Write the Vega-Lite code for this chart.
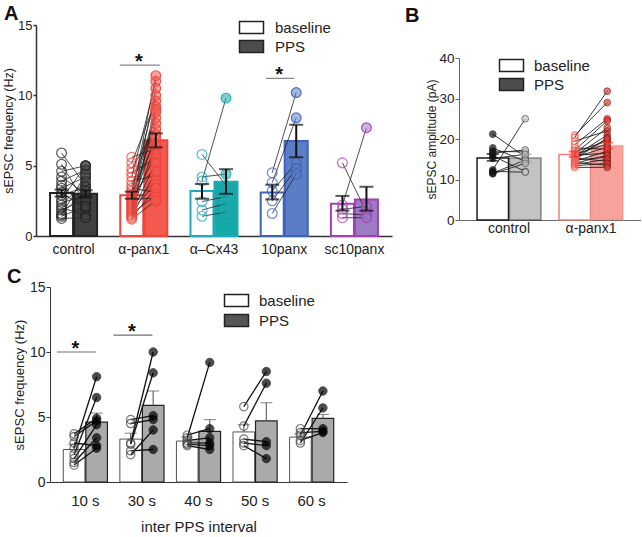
{
"$schema": "https://vega.github.io/schema/vega-lite/v6.json",
"autosize": {"type": "pad"},
"padding": {"left": 2, "top": 4, "right": 0, "bottom": 0},
"config": {
  "font": "Liberation Sans",
  "view": {"stroke": null},
  "axis": {"grid": false, "labelColor": "#222222", "titleColor": "#222222", "titleFontWeight": "normal", "domainColor": "#333333", "tickColor": "#333333"},
  "title": {"fontSize": 20, "fontWeight": "bold", "color": "#111111", "anchor": "start", "frame": "group"}
},
"datasets": {
  "A_bars": [
    {"group": "control", "cond": "baseline", "mean": 3.05, "lo": 2.8, "hi": 3.3},
    {"group": "control", "cond": "PPS", "mean": 3.0, "lo": 2.75, "hi": 3.25},
    {"group": "α-panx1", "cond": "baseline", "mean": 2.9, "lo": 2.65, "hi": 3.15},
    {"group": "α-panx1", "cond": "PPS", "mean": 6.8, "lo": 6.3, "hi": 7.3},
    {"group": "α–Cx43", "cond": "baseline", "mean": 3.2, "lo": 2.65, "hi": 3.7},
    {"group": "α–Cx43", "cond": "PPS", "mean": 3.85, "lo": 3.0, "hi": 4.75},
    {"group": "10panx", "cond": "baseline", "mean": 3.1, "lo": 2.6, "hi": 3.65},
    {"group": "10panx", "cond": "PPS", "mean": 6.75, "lo": 5.6, "hi": 7.9},
    {"group": "sc10panx", "cond": "baseline", "mean": 2.3, "lo": 1.8, "hi": 2.85},
    {"group": "sc10panx", "cond": "PPS", "mean": 2.6, "lo": 1.8, "hi": 3.5}
  ],
  "A_sig": [
    {"group": "α-panx1", "y": 12.15, "label": "*"},
    {"group": "10panx", "y": 11.2, "label": "*"}
  ],
  "A_pts": [
    {"group": "control", "pair": "c1", "cond": "baseline", "value": 5.9}, {"group": "control", "pair": "c1", "cond": "PPS", "value": 3.6},
    {"group": "control", "pair": "c2", "cond": "baseline", "value": 5.1}, {"group": "control", "pair": "c2", "cond": "PPS", "value": 2.3},
    {"group": "control", "pair": "c3", "cond": "baseline", "value": 4.6}, {"group": "control", "pair": "c3", "cond": "PPS", "value": 5.0},
    {"group": "control", "pair": "c4", "cond": "baseline", "value": 4.2}, {"group": "control", "pair": "c4", "cond": "PPS", "value": 3.0},
    {"group": "control", "pair": "c5", "cond": "baseline", "value": 3.9}, {"group": "control", "pair": "c5", "cond": "PPS", "value": 4.7},
    {"group": "control", "pair": "c6", "cond": "baseline", "value": 3.6}, {"group": "control", "pair": "c6", "cond": "PPS", "value": 2.0},
    {"group": "control", "pair": "c7", "cond": "baseline", "value": 3.4}, {"group": "control", "pair": "c7", "cond": "PPS", "value": 4.2},
    {"group": "control", "pair": "c8", "cond": "baseline", "value": 3.1}, {"group": "control", "pair": "c8", "cond": "PPS", "value": 1.9},
    {"group": "control", "pair": "c9", "cond": "baseline", "value": 2.9}, {"group": "control", "pair": "c9", "cond": "PPS", "value": 3.5},
    {"group": "control", "pair": "c10", "cond": "baseline", "value": 2.6}, {"group": "control", "pair": "c10", "cond": "PPS", "value": 5.0},
    {"group": "control", "pair": "c11", "cond": "baseline", "value": 2.4}, {"group": "control", "pair": "c11", "cond": "PPS", "value": 2.8},
    {"group": "control", "pair": "c12", "cond": "baseline", "value": 2.2}, {"group": "control", "pair": "c12", "cond": "PPS", "value": 3.9},
    {"group": "control", "pair": "c13", "cond": "baseline", "value": 2.0}, {"group": "control", "pair": "c13", "cond": "PPS", "value": 1.5},
    {"group": "control", "pair": "c14", "cond": "baseline", "value": 1.85}, {"group": "control", "pair": "c14", "cond": "PPS", "value": 2.6},
    {"group": "control", "pair": "c15", "cond": "baseline", "value": 1.6}, {"group": "control", "pair": "c15", "cond": "PPS", "value": 3.2},
    {"group": "control", "pair": "c16", "cond": "baseline", "value": 1.4}, {"group": "control", "pair": "c16", "cond": "PPS", "value": 2.1},
    {"group": "control", "pair": "c17", "cond": "baseline", "value": 1.25}, {"group": "control", "pair": "c17", "cond": "PPS", "value": 1.3},
    {"group": "control", "pair": "c18", "cond": "baseline", "value": 1.5}, {"group": "control", "pair": "c18", "cond": "PPS", "value": 4.4},
    {"group": "α-panx1", "pair": "r1", "cond": "baseline", "value": 5.6}, {"group": "α-panx1", "pair": "r1", "cond": "PPS", "value": 6.2},
    {"group": "α-panx1", "pair": "r2", "cond": "baseline", "value": 5.2}, {"group": "α-panx1", "pair": "r2", "cond": "PPS", "value": 9.6},
    {"group": "α-panx1", "pair": "r3", "cond": "baseline", "value": 4.8}, {"group": "α-panx1", "pair": "r3", "cond": "PPS", "value": 7.6},
    {"group": "α-panx1", "pair": "r4", "cond": "baseline", "value": 4.5}, {"group": "α-panx1", "pair": "r4", "cond": "PPS", "value": 5.5},
    {"group": "α-panx1", "pair": "r5", "cond": "baseline", "value": 4.2}, {"group": "α-panx1", "pair": "r5", "cond": "PPS", "value": 11.0},
    {"group": "α-panx1", "pair": "r6", "cond": "baseline", "value": 3.9}, {"group": "α-panx1", "pair": "r6", "cond": "PPS", "value": 4.3},
    {"group": "α-panx1", "pair": "r7", "cond": "baseline", "value": 3.6}, {"group": "α-panx1", "pair": "r7", "cond": "PPS", "value": 8.4},
    {"group": "α-panx1", "pair": "r8", "cond": "baseline", "value": 3.4}, {"group": "α-panx1", "pair": "r8", "cond": "PPS", "value": 3.1},
    {"group": "α-panx1", "pair": "r9", "cond": "baseline", "value": 3.2}, {"group": "α-panx1", "pair": "r9", "cond": "PPS", "value": 10.0},
    {"group": "α-panx1", "pair": "r10", "cond": "baseline", "value": 3.0}, {"group": "α-panx1", "pair": "r10", "cond": "PPS", "value": 6.9},
    {"group": "α-panx1", "pair": "r11", "cond": "baseline", "value": 2.9}, {"group": "α-panx1", "pair": "r11", "cond": "PPS", "value": 4.9},
    {"group": "α-panx1", "pair": "r12", "cond": "baseline", "value": 2.8}, {"group": "α-panx1", "pair": "r12", "cond": "PPS", "value": 11.4},
    {"group": "α-panx1", "pair": "r13", "cond": "baseline", "value": 2.7}, {"group": "α-panx1", "pair": "r13", "cond": "PPS", "value": 8.0},
    {"group": "α-panx1", "pair": "r14", "cond": "baseline", "value": 2.6}, {"group": "α-panx1", "pair": "r14", "cond": "PPS", "value": 2.7},
    {"group": "α-panx1", "pair": "r15", "cond": "baseline", "value": 2.5}, {"group": "α-panx1", "pair": "r15", "cond": "PPS", "value": 9.2},
    {"group": "α-panx1", "pair": "r16", "cond": "baseline", "value": 2.4}, {"group": "α-panx1", "pair": "r16", "cond": "PPS", "value": 5.8},
    {"group": "α-panx1", "pair": "r17", "cond": "baseline", "value": 2.3}, {"group": "α-panx1", "pair": "r17", "cond": "PPS", "value": 10.5},
    {"group": "α-panx1", "pair": "r18", "cond": "baseline", "value": 2.2}, {"group": "α-panx1", "pair": "r18", "cond": "PPS", "value": 7.2},
    {"group": "α-panx1", "pair": "r19", "cond": "baseline", "value": 2.1}, {"group": "α-panx1", "pair": "r19", "cond": "PPS", "value": 4.0},
    {"group": "α-panx1", "pair": "r20", "cond": "baseline", "value": 2.0}, {"group": "α-panx1", "pair": "r20", "cond": "PPS", "value": 8.8},
    {"group": "α-panx1", "pair": "r21", "cond": "baseline", "value": 1.9}, {"group": "α-panx1", "pair": "r21", "cond": "PPS", "value": 3.7},
    {"group": "α-panx1", "pair": "r22", "cond": "baseline", "value": 1.8}, {"group": "α-panx1", "pair": "r22", "cond": "PPS", "value": 6.5},
    {"group": "α-panx1", "pair": "r23", "cond": "baseline", "value": 1.7}, {"group": "α-panx1", "pair": "r23", "cond": "PPS", "value": 5.2},
    {"group": "α-panx1", "pair": "r24", "cond": "baseline", "value": 1.6}, {"group": "α-panx1", "pair": "r24", "cond": "PPS", "value": 2.9},
    {"group": "α-panx1", "pair": "r25", "cond": "baseline", "value": 1.5}, {"group": "α-panx1", "pair": "r25", "cond": "PPS", "value": 9.0},
    {"group": "α-panx1", "pair": "r26", "cond": "baseline", "value": 1.4}, {"group": "α-panx1", "pair": "r26", "cond": "PPS", "value": 4.6},
    {"group": "α-panx1", "pair": "r27", "cond": "baseline", "value": 1.3}, {"group": "α-panx1", "pair": "r27", "cond": "PPS", "value": 3.4},
    {"group": "α-panx1", "pair": "r28", "cond": "baseline", "value": 1.2}, {"group": "α-panx1", "pair": "r28", "cond": "PPS", "value": 2.5},
    {"group": "α–Cx43", "pair": "t1", "cond": "baseline", "value": 3.9}, {"group": "α–Cx43", "pair": "t1", "cond": "PPS", "value": 9.8},
    {"group": "α–Cx43", "pair": "t2", "cond": "baseline", "value": 5.8}, {"group": "α–Cx43", "pair": "t2", "cond": "PPS", "value": 3.6},
    {"group": "α–Cx43", "pair": "t3", "cond": "baseline", "value": 4.2}, {"group": "α–Cx43", "pair": "t3", "cond": "PPS", "value": 4.4},
    {"group": "α–Cx43", "pair": "t4", "cond": "baseline", "value": 2.45}, {"group": "α–Cx43", "pair": "t4", "cond": "PPS", "value": 2.8},
    {"group": "α–Cx43", "pair": "t5", "cond": "baseline", "value": 1.85}, {"group": "α–Cx43", "pair": "t5", "cond": "PPS", "value": 2.3},
    {"group": "α–Cx43", "pair": "t6", "cond": "baseline", "value": 1.4}, {"group": "α–Cx43", "pair": "t6", "cond": "PPS", "value": 1.7},
    {"group": "10panx", "pair": "u1", "cond": "baseline", "value": 4.5}, {"group": "10panx", "pair": "u1", "cond": "PPS", "value": 10.2},
    {"group": "10panx", "pair": "u2", "cond": "baseline", "value": 3.8}, {"group": "10panx", "pair": "u2", "cond": "PPS", "value": 8.4},
    {"group": "10panx", "pair": "u3", "cond": "baseline", "value": 3.2}, {"group": "10panx", "pair": "u3", "cond": "PPS", "value": 5.2},
    {"group": "10panx", "pair": "u4", "cond": "baseline", "value": 2.5}, {"group": "10panx", "pair": "u4", "cond": "PPS", "value": 4.8},
    {"group": "10panx", "pair": "u5", "cond": "baseline", "value": 1.6}, {"group": "10panx", "pair": "u5", "cond": "PPS", "value": 4.4},
    {"group": "sc10panx", "pair": "v1", "cond": "baseline", "value": 5.2}, {"group": "sc10panx", "pair": "v1", "cond": "PPS", "value": 1.7},
    {"group": "sc10panx", "pair": "v2", "cond": "baseline", "value": 2.2}, {"group": "sc10panx", "pair": "v2", "cond": "PPS", "value": 7.7},
    {"group": "sc10panx", "pair": "v3", "cond": "baseline", "value": 1.9}, {"group": "sc10panx", "pair": "v3", "cond": "PPS", "value": 2.1},
    {"group": "sc10panx", "pair": "v4", "cond": "baseline", "value": 1.6}, {"group": "sc10panx", "pair": "v4", "cond": "PPS", "value": 1.5},
    {"group": "sc10panx", "pair": "v5", "cond": "baseline", "value": 1.3}, {"group": "sc10panx", "pair": "v5", "cond": "PPS", "value": 1.3}
  ],
  "B_bars": [
    {"group": "control", "cond": "baseline", "mean": 15.3, "lo": 14.6, "hi": 16.3},
    {"group": "control", "cond": "PPS", "mean": 15.3, "lo": 14.4, "hi": 16.2},
    {"group": "α-panx1", "cond": "baseline", "mean": 16.2, "lo": 15.6, "hi": 16.9},
    {"group": "α-panx1", "cond": "PPS", "mean": 18.4, "lo": 17.7, "hi": 19.1}
  ],
  "B_pts": [
    {"group": "control", "pair": "k1", "cond": "baseline", "value": 21.2}, {"group": "control", "pair": "k1", "cond": "PPS", "value": 15.6},
    {"group": "control", "pair": "k2", "cond": "baseline", "value": 17.8}, {"group": "control", "pair": "k2", "cond": "PPS", "value": 14.5},
    {"group": "control", "pair": "k3", "cond": "baseline", "value": 17.0}, {"group": "control", "pair": "k3", "cond": "PPS", "value": 16.8},
    {"group": "control", "pair": "k4", "cond": "baseline", "value": 16.5}, {"group": "control", "pair": "k4", "cond": "PPS", "value": 17.3},
    {"group": "control", "pair": "k5", "cond": "baseline", "value": 15.8}, {"group": "control", "pair": "k5", "cond": "PPS", "value": 12.0},
    {"group": "control", "pair": "k6", "cond": "baseline", "value": 15.2}, {"group": "control", "pair": "k6", "cond": "PPS", "value": 16.2},
    {"group": "control", "pair": "k7", "cond": "baseline", "value": 12.4}, {"group": "control", "pair": "k7", "cond": "PPS", "value": 25.0},
    {"group": "control", "pair": "k8", "cond": "baseline", "value": 12.0}, {"group": "control", "pair": "k8", "cond": "PPS", "value": 11.8},
    {"group": "control", "pair": "k9", "cond": "baseline", "value": 11.6}, {"group": "control", "pair": "k9", "cond": "PPS", "value": 14.8},
    {"group": "control", "pair": "k10", "cond": "baseline", "value": 11.4}, {"group": "control", "pair": "k10", "cond": "PPS", "value": 14.0},
    {"group": "α-panx1", "pair": "q1", "cond": "baseline", "value": 20.9}, {"group": "α-panx1", "pair": "q1", "cond": "PPS", "value": 29.0},
    {"group": "α-panx1", "pair": "q2", "cond": "baseline", "value": 20.4}, {"group": "α-panx1", "pair": "q2", "cond": "PPS", "value": 31.8},
    {"group": "α-panx1", "pair": "q3", "cond": "baseline", "value": 19.5}, {"group": "α-panx1", "pair": "q3", "cond": "PPS", "value": 22.0},
    {"group": "α-panx1", "pair": "q4", "cond": "baseline", "value": 18.6}, {"group": "α-panx1", "pair": "q4", "cond": "PPS", "value": 25.0},
    {"group": "α-panx1", "pair": "q5", "cond": "baseline", "value": 17.8}, {"group": "α-panx1", "pair": "q5", "cond": "PPS", "value": 17.5},
    {"group": "α-panx1", "pair": "q6", "cond": "baseline", "value": 17.2}, {"group": "α-panx1", "pair": "q6", "cond": "PPS", "value": 24.5},
    {"group": "α-panx1", "pair": "q7", "cond": "baseline", "value": 16.8}, {"group": "α-panx1", "pair": "q7", "cond": "PPS", "value": 19.5},
    {"group": "α-panx1", "pair": "q8", "cond": "baseline", "value": 16.4}, {"group": "α-panx1", "pair": "q8", "cond": "PPS", "value": 22.8},
    {"group": "α-panx1", "pair": "q9", "cond": "baseline", "value": 16.0}, {"group": "α-panx1", "pair": "q9", "cond": "PPS", "value": 16.5},
    {"group": "α-panx1", "pair": "q10", "cond": "baseline", "value": 15.8}, {"group": "α-panx1", "pair": "q10", "cond": "PPS", "value": 21.0},
    {"group": "α-panx1", "pair": "q11", "cond": "baseline", "value": 15.5}, {"group": "α-panx1", "pair": "q11", "cond": "PPS", "value": 18.0},
    {"group": "α-panx1", "pair": "q12", "cond": "baseline", "value": 15.3}, {"group": "α-panx1", "pair": "q12", "cond": "PPS", "value": 14.5},
    {"group": "α-panx1", "pair": "q13", "cond": "baseline", "value": 15.0}, {"group": "α-panx1", "pair": "q13", "cond": "PPS", "value": 20.3},
    {"group": "α-panx1", "pair": "q14", "cond": "baseline", "value": 14.8}, {"group": "α-panx1", "pair": "q14", "cond": "PPS", "value": 15.5},
    {"group": "α-panx1", "pair": "q15", "cond": "baseline", "value": 14.5}, {"group": "α-panx1", "pair": "q15", "cond": "PPS", "value": 17.0},
    {"group": "α-panx1", "pair": "q16", "cond": "baseline", "value": 14.2}, {"group": "α-panx1", "pair": "q16", "cond": "PPS", "value": 13.5},
    {"group": "α-panx1", "pair": "q17", "cond": "baseline", "value": 14.0}, {"group": "α-panx1", "pair": "q17", "cond": "PPS", "value": 16.0},
    {"group": "α-panx1", "pair": "q18", "cond": "baseline", "value": 13.7}, {"group": "α-panx1", "pair": "q18", "cond": "PPS", "value": 15.0},
    {"group": "α-panx1", "pair": "q19", "cond": "baseline", "value": 13.4}, {"group": "α-panx1", "pair": "q19", "cond": "PPS", "value": 14.0},
    {"group": "α-panx1", "pair": "q20", "cond": "baseline", "value": 13.0}, {"group": "α-panx1", "pair": "q20", "cond": "PPS", "value": 13.0},
    {"group": "α-panx1", "pair": "q21", "cond": "baseline", "value": 16.2}, {"group": "α-panx1", "pair": "q21", "cond": "PPS", "value": 18.8},
    {"group": "α-panx1", "pair": "q22", "cond": "baseline", "value": 15.6}, {"group": "α-panx1", "pair": "q22", "cond": "PPS", "value": 20.0}
  ],
  "C_bars": [
    {"interval": "10 s", "cond": "baseline", "mean": 2.5, "hi": 2.9},
    {"interval": "10 s", "cond": "PPS", "mean": 4.6, "hi": 5.3},
    {"interval": "30 s", "cond": "baseline", "mean": 3.3, "hi": 3.75},
    {"interval": "30 s", "cond": "PPS", "mean": 5.9, "hi": 7.0},
    {"interval": "40 s", "cond": "baseline", "mean": 3.15, "hi": 3.45},
    {"interval": "40 s", "cond": "PPS", "mean": 3.9, "hi": 4.8},
    {"interval": "50 s", "cond": "baseline", "mean": 3.85, "hi": 4.4},
    {"interval": "50 s", "cond": "PPS", "mean": 4.7, "hi": 6.1},
    {"interval": "60 s", "cond": "baseline", "mean": 3.45, "hi": 3.7},
    {"interval": "60 s", "cond": "PPS", "mean": 4.9, "hi": 5.2}
  ],
  "C_sig": [
    {"interval": "10 s", "y": 10.0, "label": "*"},
    {"interval": "30 s", "y": 11.3, "label": "*"}
  ],
  "C_pts": [
    {"interval": "10 s", "pair": "a1", "cond": "baseline", "value": 2.6}, {"interval": "10 s", "pair": "a1", "cond": "PPS", "value": 8.1},
    {"interval": "10 s", "pair": "a2", "cond": "baseline", "value": 2.1}, {"interval": "10 s", "pair": "a2", "cond": "PPS", "value": 6.5},
    {"interval": "10 s", "pair": "a3", "cond": "baseline", "value": 3.7}, {"interval": "10 s", "pair": "a3", "cond": "PPS", "value": 4.9},
    {"interval": "10 s", "pair": "a4", "cond": "baseline", "value": 3.5}, {"interval": "10 s", "pair": "a4", "cond": "PPS", "value": 4.7},
    {"interval": "10 s", "pair": "a5", "cond": "baseline", "value": 1.8}, {"interval": "10 s", "pair": "a5", "cond": "PPS", "value": 4.4},
    {"interval": "10 s", "pair": "a6", "cond": "baseline", "value": 1.5}, {"interval": "10 s", "pair": "a6", "cond": "PPS", "value": 3.4},
    {"interval": "10 s", "pair": "a7", "cond": "baseline", "value": 3.0}, {"interval": "10 s", "pair": "a7", "cond": "PPS", "value": 2.8},
    {"interval": "10 s", "pair": "a8", "cond": "baseline", "value": 1.3}, {"interval": "10 s", "pair": "a8", "cond": "PPS", "value": 2.6},
    {"interval": "30 s", "pair": "b1", "cond": "baseline", "value": 3.0}, {"interval": "30 s", "pair": "b1", "cond": "PPS", "value": 10.0},
    {"interval": "30 s", "pair": "b2", "cond": "baseline", "value": 2.9}, {"interval": "30 s", "pair": "b2", "cond": "PPS", "value": 8.4},
    {"interval": "30 s", "pair": "b3", "cond": "baseline", "value": 4.8}, {"interval": "30 s", "pair": "b3", "cond": "PPS", "value": 5.1},
    {"interval": "30 s", "pair": "b4", "cond": "baseline", "value": 4.5}, {"interval": "30 s", "pair": "b4", "cond": "PPS", "value": 4.8},
    {"interval": "30 s", "pair": "b5", "cond": "baseline", "value": 2.1}, {"interval": "30 s", "pair": "b5", "cond": "PPS", "value": 4.0},
    {"interval": "30 s", "pair": "b6", "cond": "baseline", "value": 2.4}, {"interval": "30 s", "pair": "b6", "cond": "PPS", "value": 2.5},
    {"interval": "40 s", "pair": "d1", "cond": "baseline", "value": 3.4}, {"interval": "40 s", "pair": "d1", "cond": "PPS", "value": 9.2},
    {"interval": "40 s", "pair": "d2", "cond": "baseline", "value": 3.6}, {"interval": "40 s", "pair": "d2", "cond": "PPS", "value": 4.1},
    {"interval": "40 s", "pair": "d3", "cond": "baseline", "value": 3.2}, {"interval": "40 s", "pair": "d3", "cond": "PPS", "value": 3.4},
    {"interval": "40 s", "pair": "d4", "cond": "baseline", "value": 3.0}, {"interval": "40 s", "pair": "d4", "cond": "PPS", "value": 3.0},
    {"interval": "40 s", "pair": "d5", "cond": "baseline", "value": 2.9}, {"interval": "40 s", "pair": "d5", "cond": "PPS", "value": 2.8},
    {"interval": "40 s", "pair": "d6", "cond": "baseline", "value": 2.8}, {"interval": "40 s", "pair": "d6", "cond": "PPS", "value": 2.5},
    {"interval": "50 s", "pair": "e1", "cond": "baseline", "value": 5.8}, {"interval": "50 s", "pair": "e1", "cond": "PPS", "value": 8.5},
    {"interval": "50 s", "pair": "e2", "cond": "baseline", "value": 4.3}, {"interval": "50 s", "pair": "e2", "cond": "PPS", "value": 7.6},
    {"interval": "50 s", "pair": "e3", "cond": "baseline", "value": 3.3}, {"interval": "50 s", "pair": "e3", "cond": "PPS", "value": 3.1},
    {"interval": "50 s", "pair": "e4", "cond": "baseline", "value": 3.0}, {"interval": "50 s", "pair": "e4", "cond": "PPS", "value": 2.8},
    {"interval": "50 s", "pair": "e5", "cond": "baseline", "value": 2.8}, {"interval": "50 s", "pair": "e5", "cond": "PPS", "value": 1.8},
    {"interval": "60 s", "pair": "f1", "cond": "baseline", "value": 3.6}, {"interval": "60 s", "pair": "f1", "cond": "PPS", "value": 7.0},
    {"interval": "60 s", "pair": "f2", "cond": "baseline", "value": 3.0}, {"interval": "60 s", "pair": "f2", "cond": "PPS", "value": 5.7},
    {"interval": "60 s", "pair": "f3", "cond": "baseline", "value": 4.1}, {"interval": "60 s", "pair": "f3", "cond": "PPS", "value": 4.1},
    {"interval": "60 s", "pair": "f4", "cond": "baseline", "value": 3.8}, {"interval": "60 s", "pair": "f4", "cond": "PPS", "value": 3.9},
    {"interval": "60 s", "pair": "f5", "cond": "baseline", "value": 3.2}, {"interval": "60 s", "pair": "f5", "cond": "PPS", "value": 3.8}
  ]
},
"spacing": 11,
"resolve": {"scale": {"x": "independent", "y": "independent", "xOffset": "independent", "color": "independent", "fill": "independent", "stroke": "independent"}, "axis": {"x": "independent", "y": "independent"}, "legend": {"color": "independent"}},
"vconcat": [
{
  "bounds": "flush",
  "spacing": 67,
  "resolve": {"scale": {"x": "independent", "y": "independent", "xOffset": "independent", "color": "independent", "fill": "independent", "stroke": "independent"}, "axis": {"x": "independent", "y": "independent"}, "legend": {"color": "independent"}},
  "hconcat": [
  {
    "width": 356, "height": 211,
    "title": {"text": "A", "dx": -32, "offset": -5},
    "layer": [
      {"data": {"name": "A_bars"}, "transform": [{"filter": "datum.cond === 'baseline'"}],
       "mark": {"type": "bar", "fill": "#ffffff", "strokeWidth": 2},
       "encoding": {
         "x": {"field": "group", "type": "nominal", "sort": null, "title": null, "scale": {"domain": ["control", "α-panx1", "α–Cx43", "10panx", "sc10panx"], "paddingInner": 0.33, "paddingOuter": 0.2}, "axis": {"labelFontSize": 14, "labelPadding": 6, "ticks": false, "labelAngle": 0, "domainWidth": 1.5, "domainColor": "#333333"}},
         "xOffset": {"field": "cond", "type": "nominal", "sort": null, "scale": {"domain": ["baseline", "PPS"], "paddingInner": 0.04}},
         "y": {"field": "mean", "type": "quantitative", "title": "sEPSC frequency (Hz)", "scale": {"domain": [0, 15], "nice": false}, "axis": {"values": [0, 5, 10, 15], "tickSize": 3, "labelFontSize": 13, "labelPadding": 1, "titleFontSize": 12.5, "titlePadding": 2, "domainWidth": 1.5, "tickWidth": 1.5}},
         "stroke": {"field": "group", "type": "nominal", "scale": {"domain": ["control", "α-panx1", "α–Cx43", "10panx", "sc10panx"], "range": ["#222222", "#f0443b", "#20a9ba", "#3d63bb", "#a63fb4"]}, "legend": null}
       }},
      {"data": {"name": "A_bars"}, "transform": [{"filter": "datum.cond === 'PPS'"}],
       "mark": {"type": "bar", "strokeWidth": 2},
       "encoding": {
         "x": {"field": "group", "type": "nominal", "sort": null, "title": null},
         "xOffset": {"field": "cond", "type": "nominal", "sort": null},
         "y": {"field": "mean", "type": "quantitative", "title": "sEPSC frequency (Hz)"},
         "fill": {"field": "group", "type": "nominal", "scale": {"domain": ["control", "α-panx1", "α–Cx43", "10panx", "sc10panx"], "range": ["#404040", "#f4594f", "#15a9a6", "#5b7dc5", "#9b7bc4"]}, "legend": null},
         "stroke": {"field": "group", "type": "nominal", "legend": null}
       }},
      {"data": {"name": "A_pts"},
       "mark": {"type": "line", "stroke": "#222222", "strokeWidth": 0.8},
       "encoding": {
         "x": {"field": "group", "type": "nominal", "sort": null, "title": null},
         "xOffset": {"field": "cond", "type": "nominal", "sort": null},
         "y": {"field": "value", "type": "quantitative", "title": "sEPSC frequency (Hz)"},
         "detail": {"field": "pair", "type": "nominal"}
       }},
      {"data": {"name": "A_pts"}, "transform": [{"filter": "datum.cond === 'baseline'"}],
       "mark": {"type": "point", "shape": "circle", "filled": false, "size": 95, "strokeWidth": 1.3},
       "encoding": {
         "x": {"field": "group", "type": "nominal", "sort": null, "title": null},
         "xOffset": {"field": "cond", "type": "nominal", "sort": null},
         "y": {"field": "value", "type": "quantitative", "title": "sEPSC frequency (Hz)"},
         "stroke": {"field": "group", "type": "nominal", "legend": null}
       }},
      {"data": {"name": "A_pts"}, "transform": [{"filter": "datum.cond === 'PPS'"}],
       "mark": {"type": "point", "shape": "circle", "filled": true, "size": 95, "fillOpacity": 0.55, "strokeWidth": 1.2, "strokeOpacity": 0.9},
       "encoding": {
         "x": {"field": "group", "type": "nominal", "sort": null, "title": null},
         "xOffset": {"field": "cond", "type": "nominal", "sort": null},
         "y": {"field": "value", "type": "quantitative", "title": "sEPSC frequency (Hz)"},
         "fill": {"field": "group", "type": "nominal", "legend": null},
         "stroke": {"field": "group", "type": "nominal", "legend": null}
       }},
      {"data": {"name": "A_bars"},
       "mark": {"type": "rule", "stroke": "#111111", "strokeWidth": 2},
       "encoding": {
         "x": {"field": "group", "type": "nominal", "sort": null, "title": null},
         "xOffset": {"field": "cond", "type": "nominal", "sort": null},
         "y": {"field": "lo", "type": "quantitative", "title": "sEPSC frequency (Hz)"},
         "y2": {"field": "hi"}
       }},
      {"data": {"name": "A_bars"}, "transform": [{"fold": ["lo", "hi"], "as": ["end", "v"]}],
       "mark": {"type": "tick", "color": "#111111", "thickness": 2, "size": 14},
       "encoding": {
         "x": {"field": "group", "type": "nominal", "sort": null, "title": null},
         "xOffset": {"field": "cond", "type": "nominal", "sort": null},
         "y": {"field": "v", "type": "quantitative", "title": "sEPSC frequency (Hz)"}
       }},
      {"data": {"name": "A_sig"}, "transform": [{"filter": "datum.group === 'α-panx1'"}],
       "mark": {"type": "tick", "color": "#555555", "thickness": 1.3, "size": 40, "xOffset": -4},
       "encoding": {
         "x": {"field": "group", "type": "nominal", "sort": null, "title": null},
         "y": {"field": "y", "type": "quantitative", "title": "sEPSC frequency (Hz)"}
       }},
      {"data": {"name": "A_sig"}, "transform": [{"filter": "datum.group === '10panx'"}],
       "mark": {"type": "tick", "color": "#555555", "thickness": 1.3, "size": 28, "xOffset": -4},
       "encoding": {
         "x": {"field": "group", "type": "nominal", "sort": null, "title": null},
         "y": {"field": "y", "type": "quantitative", "title": "sEPSC frequency (Hz)"}
       }},
      {"data": {"name": "A_sig"},
       "mark": {"type": "text", "fontSize": 20, "fontWeight": "bold", "color": "#111111", "baseline": "alphabetic", "dy": 3, "xOffset": -5},
       "encoding": {
         "x": {"field": "group", "type": "nominal", "sort": null, "title": null},
         "y": {"field": "y", "type": "quantitative", "title": "sEPSC frequency (Hz)"},
         "text": {"field": "label"}
       }},
      {"data": {"name": "A_bars"}, "transform": [{"filter": "false"}],
       "mark": {"type": "point", "shape": "square", "filled": true, "stroke": "#222222", "strokeWidth": 1.5},
       "encoding": {
         "x": {"field": "group", "type": "nominal", "sort": null, "title": null},
         "y": {"field": "mean", "type": "quantitative", "title": "sEPSC frequency (Hz)"},
         "color": {"field": "cond", "type": "nominal", "scale": {"domain": ["baseline", "PPS"], "range": ["#ffffff", "#4d4d4d"]},
                   "legend": {"title": null, "orient": "none", "legendX": 208, "legendY": -5, "symbolType": "M-3,-1.5H3V1.5H-3Z", "symbolSize": 64, "symbolStrokeColor": "#222222", "symbolStrokeWidth": 1.5, "symbolOpacity": 1, "labelFontSize": 15, "labelOffset": 16, "rowPadding": 0, "padding": 0, "labelColor": "#222222"}}
       }}
    ]
  },
  {
    "bounds": "flush",
    "spacing": 0,
    "resolve": {"scale": {"x": "independent", "y": "independent", "xOffset": "independent", "color": "independent", "fill": "independent", "stroke": "independent"}, "axis": {"x": "independent", "y": "independent"}, "legend": {"color": "independent"}},
    "vconcat": [
      {"width": 182, "height": 33, "data": {"values": [{"k": 1}]}, "mark": {"type": "point", "opacity": 0}},
      {
        "width": 182, "height": 162,
        "title": {"text": "B", "dx": -54, "offset": 25},
        "layer": [
          {"data": {"name": "B_bars"}, "transform": [{"filter": "datum.cond === 'baseline'"}],
           "mark": {"type": "bar", "fill": "#ffffff", "strokeWidth": 1.5},
           "encoding": {
             "x": {"field": "group", "type": "nominal", "sort": null, "title": null, "scale": {"domain": ["control", "α-panx1"], "paddingInner": 0.22, "paddingOuter": 0.22}, "axis": {"labelFontSize": 14, "labelPadding": 1, "ticks": false, "labelAngle": 0, "domainColor": "#666666"}},
             "xOffset": {"field": "cond", "type": "nominal", "sort": null, "scale": {"domain": ["baseline", "PPS"], "paddingInner": 0.03}},
             "y": {"field": "mean", "type": "quantitative", "title": "sEPSC amplitude (pA)", "scale": {"domain": [0, 40], "nice": false}, "axis": {"values": [0, 10, 20, 30, 40], "tickSize": 4, "labelFontSize": 13.5, "labelPadding": 1, "titleFontSize": 12, "titlePadding": 0, "domainColor": "#666666", "tickColor": "#666666"}},
             "stroke": {"field": "group", "type": "nominal", "scale": {"domain": ["control", "α-panx1"], "range": ["#1a1a1a", "#f2807a"]}, "legend": null}
           }},
          {"data": {"name": "B_bars"}, "transform": [{"filter": "datum.cond === 'PPS'"}],
           "mark": {"type": "bar", "strokeWidth": 1.5, "strokeOpacity": 0.45},
           "encoding": {
             "x": {"field": "group", "type": "nominal", "sort": null, "title": null},
             "xOffset": {"field": "cond", "type": "nominal", "sort": null},
             "y": {"field": "mean", "type": "quantitative", "title": "sEPSC amplitude (pA)"},
             "fill": {"field": "group", "type": "nominal", "scale": {"domain": ["control", "α-panx1"], "range": ["#c3c3c3", "#f8a29c"]}, "legend": null},
             "stroke": {"field": "group", "type": "nominal", "legend": null}
           }},
          {"data": {"name": "B_pts"},
           "mark": {"type": "line", "stroke": "#222222", "strokeWidth": 0.9},
           "encoding": {
             "x": {"field": "group", "type": "nominal", "sort": null, "title": null},
             "xOffset": {"field": "cond", "type": "nominal", "sort": null},
             "y": {"field": "value", "type": "quantitative", "title": "sEPSC amplitude (pA)"},
             "detail": {"field": "pair", "type": "nominal"}
           }},
          {"data": {"name": "B_pts"}, "transform": [{"filter": "datum.group === 'control' && datum.cond === 'baseline'"}],
           "mark": {"type": "point", "shape": "circle", "filled": true, "size": 45, "fill": "#111111", "stroke": "#111111", "strokeWidth": 1},
           "encoding": {
             "x": {"field": "group", "type": "nominal", "sort": null, "title": null},
             "xOffset": {"field": "cond", "type": "nominal", "sort": null},
             "y": {"field": "value", "type": "quantitative", "title": "sEPSC amplitude (pA)"}
           }},
          {"data": {"name": "B_pts"}, "transform": [{"filter": "datum.group === 'control' && datum.cond === 'PPS'"}],
           "mark": {"type": "point", "shape": "circle", "filled": true, "size": 45, "fill": "#c9c9c9", "stroke": "#444444", "strokeWidth": 1},
           "encoding": {
             "x": {"field": "group", "type": "nominal", "sort": null, "title": null},
             "xOffset": {"field": "cond", "type": "nominal", "sort": null},
             "y": {"field": "value", "type": "quantitative", "title": "sEPSC amplitude (pA)"}
           }},
          {"data": {"name": "B_pts"}, "transform": [{"filter": "datum.group === 'α-panx1' && datum.cond === 'baseline'"}],
           "mark": {"type": "point", "shape": "circle", "filled": false, "size": 45, "stroke": "#f2635b", "strokeWidth": 1.3},
           "encoding": {
             "x": {"field": "group", "type": "nominal", "sort": null, "title": null},
             "xOffset": {"field": "cond", "type": "nominal", "sort": null},
             "y": {"field": "value", "type": "quantitative", "title": "sEPSC amplitude (pA)"}
           }},
          {"data": {"name": "B_pts"}, "transform": [{"filter": "datum.group === 'α-panx1' && datum.cond === 'PPS'"}],
           "mark": {"type": "point", "shape": "circle", "filled": true, "size": 45, "fill": "#e8392f", "stroke": "#6a1410", "strokeWidth": 1},
           "encoding": {
             "x": {"field": "group", "type": "nominal", "sort": null, "title": null},
             "xOffset": {"field": "cond", "type": "nominal", "sort": null},
             "y": {"field": "value", "type": "quantitative", "title": "sEPSC amplitude (pA)"}
           }},
          {"data": {"name": "B_bars"}, "transform": [{"filter": "datum.group === 'control' && datum.cond === 'baseline'"}],
           "mark": {"type": "rule", "stroke": "#111111", "strokeWidth": 1.8},
           "encoding": {
             "x": {"field": "group", "type": "nominal", "sort": null, "title": null},
             "xOffset": {"field": "cond", "type": "nominal", "sort": null},
             "y": {"field": "lo", "type": "quantitative", "title": "sEPSC amplitude (pA)"},
             "y2": {"field": "hi"}
           }},
          {"data": {"name": "B_bars"}, "transform": [{"filter": "datum.group === 'control' && datum.cond === 'baseline'"}, {"fold": ["lo", "hi"], "as": ["end", "v"]}],
           "mark": {"type": "tick", "color": "#111111", "thickness": 1.8, "size": 12},
           "encoding": {
             "x": {"field": "group", "type": "nominal", "sort": null, "title": null},
             "xOffset": {"field": "cond", "type": "nominal", "sort": null},
             "y": {"field": "v", "type": "quantitative", "title": "sEPSC amplitude (pA)"}
           }},
          {"data": {"name": "B_bars"}, "transform": [{"filter": "datum.group === 'control' && datum.cond === 'PPS'"}],
           "mark": {"type": "rule", "stroke": "#9a9a9a", "strokeWidth": 1.8},
           "encoding": {
             "x": {"field": "group", "type": "nominal", "sort": null, "title": null},
             "xOffset": {"field": "cond", "type": "nominal", "sort": null},
             "y": {"field": "lo", "type": "quantitative", "title": "sEPSC amplitude (pA)"},
             "y2": {"field": "hi"}
           }},
          {"data": {"name": "B_bars"}, "transform": [{"filter": "datum.group === 'control' && datum.cond === 'PPS'"}, {"fold": ["lo", "hi"], "as": ["end", "v"]}],
           "mark": {"type": "tick", "color": "#9a9a9a", "thickness": 1.8, "size": 12},
           "encoding": {
             "x": {"field": "group", "type": "nominal", "sort": null, "title": null},
             "xOffset": {"field": "cond", "type": "nominal", "sort": null},
             "y": {"field": "v", "type": "quantitative", "title": "sEPSC amplitude (pA)"}
           }},
          {"data": {"name": "B_bars"}, "transform": [{"filter": "datum.group === 'α-panx1'"}],
           "mark": {"type": "rule", "stroke": "#ee3a35", "strokeWidth": 1.8},
           "encoding": {
             "x": {"field": "group", "type": "nominal", "sort": null, "title": null},
             "xOffset": {"field": "cond", "type": "nominal", "sort": null},
             "y": {"field": "lo", "type": "quantitative", "title": "sEPSC amplitude (pA)"},
             "y2": {"field": "hi"}
           }},
          {"data": {"name": "B_bars"}, "transform": [{"filter": "datum.group === 'α-panx1'"}, {"fold": ["lo", "hi"], "as": ["end", "v"]}],
           "mark": {"type": "tick", "color": "#ee3a35", "thickness": 1.8, "size": 12},
           "encoding": {
             "x": {"field": "group", "type": "nominal", "sort": null, "title": null},
             "xOffset": {"field": "cond", "type": "nominal", "sort": null},
             "y": {"field": "v", "type": "quantitative", "title": "sEPSC amplitude (pA)"}
           }},
          {"data": {"name": "B_bars"}, "transform": [{"filter": "false"}],
           "mark": {"type": "point", "shape": "square", "filled": true, "stroke": "#222222", "strokeWidth": 1.5},
           "encoding": {
             "x": {"field": "group", "type": "nominal", "sort": null, "title": null},
             "y": {"field": "mean", "type": "quantitative", "title": "sEPSC amplitude (pA)"},
             "color": {"field": "cond", "type": "nominal", "scale": {"domain": ["baseline", "PPS"], "range": ["#ffffff", "#4d4d4d"]},
                       "legend": {"title": null, "orient": "none", "legendX": 45, "legendY": 0, "symbolType": "M-3,-1.5H3V1.5H-3Z", "symbolSize": 64, "symbolStrokeColor": "#222222", "symbolStrokeWidth": 1.5, "symbolOpacity": 1, "labelFontSize": 15, "labelOffset": 15, "rowPadding": 0, "padding": 0, "labelColor": "#222222"}}
           }}
        ]
      }
    ]
  }
  ]
},
{
  "bounds": "flush",
  "spacing": 13,
  "resolve": {"scale": {"x": "independent", "y": "independent", "xOffset": "independent", "color": "independent", "fill": "independent", "stroke": "independent"}, "axis": {"x": "independent", "y": "independent"}, "legend": {"color": "independent"}},
  "hconcat": [
    {"width": 1, "height": 1, "data": {"values": [{"k": 1}]}, "mark": {"type": "point", "opacity": 0}},
    {
      "width": 297, "height": 195,
      "title": {"text": "C", "dx": -43, "offset": -7},
      "layer": [
        {"data": {"name": "C_bars"}, "transform": [{"filter": "datum.cond === 'baseline'"}],
         "mark": {"type": "bar", "fill": "#ffffff", "stroke": "#555555", "strokeWidth": 1},
         "encoding": {
           "x": {"field": "interval", "type": "nominal", "sort": null, "title": "inter PPS interval", "scale": {"domain": ["10 s", "30 s", "40 s", "50 s", "60 s"], "paddingInner": 0.22, "paddingOuter": 0.235}, "axis": {"labelFontSize": 15, "labelPadding": 11, "ticks": false, "labelAngle": 0, "titleFontSize": 15, "titlePadding": 11}},
           "xOffset": {"field": "cond", "type": "nominal", "sort": null, "scale": {"domain": ["baseline", "PPS"], "paddingInner": 0.04}},
           "y": {"field": "mean", "type": "quantitative", "title": "sEPSC frequency (Hz)", "scale": {"domain": [0, 15], "nice": false}, "axis": {"values": [0, 5, 10, 15], "tickSize": 4, "labelFontSize": 14, "labelPadding": 1, "titleFontSize": 13, "titlePadding": 3}}
         }},
        {"data": {"name": "C_bars"}, "transform": [{"filter": "datum.cond === 'PPS'"}],
         "mark": {"type": "bar", "fill": "#aaaaaa", "stroke": "#222222", "strokeWidth": 1.2},
         "encoding": {
           "x": {"field": "interval", "type": "nominal", "sort": null, "title": "inter PPS interval"},
           "xOffset": {"field": "cond", "type": "nominal", "sort": null},
           "y": {"field": "mean", "type": "quantitative", "title": "sEPSC frequency (Hz)"}
         }},
        {"data": {"name": "C_bars"},
         "mark": {"type": "rule", "stroke": "#666666", "strokeWidth": 1.2},
         "encoding": {
           "x": {"field": "interval", "type": "nominal", "sort": null, "title": "inter PPS interval"},
           "xOffset": {"field": "cond", "type": "nominal", "sort": null},
           "y": {"field": "mean", "type": "quantitative", "title": "sEPSC frequency (Hz)"},
           "y2": {"field": "hi"}
         }},
        {"data": {"name": "C_bars"},
         "mark": {"type": "tick", "color": "#666666", "thickness": 1.2, "size": 12},
         "encoding": {
           "x": {"field": "interval", "type": "nominal", "sort": null, "title": "inter PPS interval"},
           "xOffset": {"field": "cond", "type": "nominal", "sort": null},
           "y": {"field": "hi", "type": "quantitative", "title": "sEPSC frequency (Hz)"}
         }},
        {"data": {"name": "C_pts"},
         "mark": {"type": "line", "stroke": "#111111", "strokeWidth": 1.3},
         "encoding": {
           "x": {"field": "interval", "type": "nominal", "sort": null, "title": "inter PPS interval"},
           "xOffset": {"field": "cond", "type": "nominal", "sort": null},
           "y": {"field": "value", "type": "quantitative", "title": "sEPSC frequency (Hz)"},
           "detail": {"field": "pair", "type": "nominal"}
         }},
        {"data": {"name": "C_pts"}, "transform": [{"filter": "datum.cond === 'baseline'"}],
         "mark": {"type": "point", "shape": "circle", "filled": false, "size": 70, "stroke": "#444444", "strokeWidth": 1.2},
         "encoding": {
           "x": {"field": "interval", "type": "nominal", "sort": null, "title": "inter PPS interval"},
           "xOffset": {"field": "cond", "type": "nominal", "sort": null},
           "y": {"field": "value", "type": "quantitative", "title": "sEPSC frequency (Hz)"}
         }},
        {"data": {"name": "C_pts"}, "transform": [{"filter": "datum.cond === 'PPS'"}],
         "mark": {"type": "point", "shape": "circle", "filled": true, "size": 70, "fill": "#000000", "stroke": "#000000", "strokeWidth": 1},
         "encoding": {
           "x": {"field": "interval", "type": "nominal", "sort": null, "title": "inter PPS interval"},
           "xOffset": {"field": "cond", "type": "nominal", "sort": null},
           "y": {"field": "value", "type": "quantitative", "title": "sEPSC frequency (Hz)"}
         }},
        {"data": {"name": "C_sig"},
         "mark": {"type": "tick", "color": "#333333", "thickness": 1.2, "size": 39, "xOffset": -9},
         "encoding": {
           "x": {"field": "interval", "type": "nominal", "sort": null, "title": "inter PPS interval"},
           "y": {"field": "y", "type": "quantitative", "title": "sEPSC frequency (Hz)"}
         }},
        {"data": {"name": "C_sig"},
         "mark": {"type": "text", "fontSize": 20, "fontWeight": "bold", "color": "#111111", "baseline": "alphabetic", "dy": 3, "xOffset": -10},
         "encoding": {
           "x": {"field": "interval", "type": "nominal", "sort": null, "title": "inter PPS interval"},
           "y": {"field": "y", "type": "quantitative", "title": "sEPSC frequency (Hz)"},
           "text": {"field": "label"}
         }},
        {"data": {"name": "C_bars"}, "transform": [{"filter": "false"}],
         "mark": {"type": "point", "shape": "square", "filled": true, "stroke": "#222222", "strokeWidth": 1.5},
         "encoding": {
           "x": {"field": "interval", "type": "nominal", "sort": null, "title": "inter PPS interval"},
           "y": {"field": "mean", "type": "quantitative", "title": "sEPSC frequency (Hz)"},
           "color": {"field": "cond", "type": "nominal", "scale": {"domain": ["baseline", "PPS"], "range": ["#ffffff", "#555555"]},
                     "legend": {"title": null, "orient": "none", "legendX": 179, "legendY": 6, "symbolType": "M-3,-1.5H3V1.5H-3Z", "symbolSize": 64, "symbolStrokeColor": "#222222", "symbolStrokeWidth": 1.5, "symbolOpacity": 1, "labelFontSize": 15, "labelOffset": 15, "rowPadding": 1, "padding": 0, "labelColor": "#222222"}}
         }}
      ]
    }
  ]
}
]
}
